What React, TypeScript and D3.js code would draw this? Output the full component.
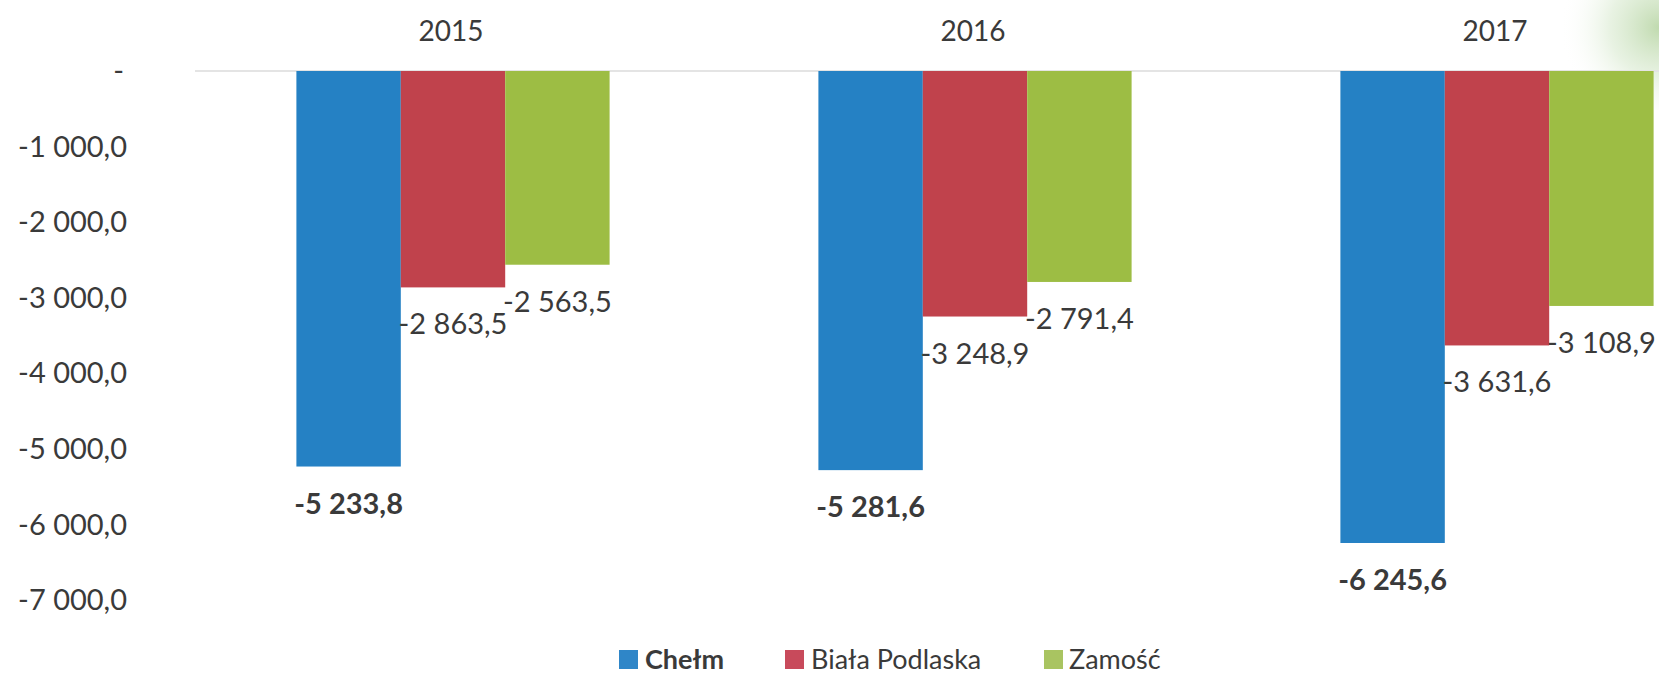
import React from "react";
import * as d3 from "d3";

const years = ["2015", "2016", "2017"];
const seriesNames = ["Chełm", "Biała Podlaska", "Zamość"];
const chelm = [-5233.8, -5281.6, -6245.6];
const bialaPodlaska = [-2863.5, -3248.9, -3631.6];
const zamosc = [-2563.5, -2791.4, -3108.9];
const yTicks = [0, -1000, -2000, -3000, -4000, -5000, -6000, -7000];

const colors = ["#2581c4", "#c0424c", "#9dbd44"];
const legendColors = ["#2f86c8", "#c84a5b", "#a9c461"];

const W = 1659;
const H = 680;

const locale = d3.formatLocale({
  decimal: ",",
  thousands: " ",
  grouping: [3],
  currency: ["", " zł"],
  minus: "-",
});
const fmt = locale.format(",.1f");
const tickFmt = (v: number) => (v === 0 ? "-" : fmt(v));

export default function App() {
  const series = [chelm, bialaPodlaska, zamosc];
  const x0 = d3.scaleBand<string>().domain(years).range([192, 1758]).paddingInner(0.4).paddingOuter(0.2);
  const x1 = d3.scaleBand<number>().domain([0, 1, 2]).range([0, x0.bandwidth()]).padding(0);
  const y = d3.scaleLinear().domain([-7000, 0]).range([600, 71]);
  const font = "Lato, 'Open Sans', sans-serif";
  const textColor = "#3a3a3a";

  const legendItems = [
    { sq: 619, tx: 645 },
    { sq: 785, tx: 811 },
    { sq: 1044, tx: 1069 },
  ];
  const legendY = 660;

  return (
    <svg
      width={W}
      height={H}
      viewBox={`0 0 ${W} ${H}`}
      style={{ position: "absolute", left: 0, top: 0, background: "#ffffff" }}
      fontFamily={font}
    >
      <defs>
        <radialGradient id="corner" cx="1.0" cy="0.25" r="0.9">
          <stop offset="0" stopColor="#b9d6a6" stopOpacity="0.9" />
          <stop offset="0.5" stopColor="#d9ead0" stopOpacity="0.6" />
          <stop offset="1" stopColor="#ffffff" stopOpacity="0" />
        </radialGradient>
      </defs>
      <rect x={W - 110} y={0} width={110} height={110} fill="url(#corner)" />

      {/* zero line */}
      <line x1={195} x2={W} y1={y(0)} y2={y(0)} stroke="#e4e4e4" strokeWidth={2} />

      {/* y axis tick labels */}
      {yTicks.map((t) => (
        <text
          key={t}
          x={t === 0 ? 124 : 127}
          y={y(t)}
          dy="0.35em"
          textAnchor="end"
          fontSize={29}
          fill={textColor}
        >
          {tickFmt(t)}
        </text>
      ))}

      {/* category labels */}
      {years.map((yr) => (
        <text
          key={yr}
          x={(x0(yr) as number) + x0.bandwidth() / 2 - 2}
          y={31}
          dy="0.35em"
          textAnchor="middle"
          fontSize={28}
          fill={textColor}
        >
          {yr}
        </text>
      ))}

      {/* bars */}
      {years.map((yr, i) => (
        <g key={yr} transform={`translate(${x0(yr)},0)`}>
          {series.map((s, j) => {
            const v = s[i];
            const bx = x1(j) as number;
            const bw = x1.bandwidth();
            return (
              <rect
                key={j}
                x={bx}
                y={y(0)}
                width={bw}
                height={y(v) - y(0)}
                fill={colors[j]}
              />
            );
          })}
          {series.map((s, j) => {
            const v = s[i];
            const bx = x1(j) as number;
            const bw = x1.bandwidth();
            return (
              <text
                key={"l" + j}
                x={bx + bw / 2}
                y={y(v) + 47}
                textAnchor="middle"
                fontSize={29}
                fontWeight={j === 0 ? 700 : 400}
                fill={textColor}
              >
                {fmt(v)}
              </text>
            );
          })}
        </g>
      ))}

      {/* legend */}
      {seriesNames.map((n, j) => (
        <g key={n}>
          <rect x={legendItems[j].sq} y={legendY - 10} width={19} height={19} fill={legendColors[j]} />
          <text
            x={legendItems[j].tx}
            y={legendY}
            dy="0.35em"
            fontSize={27}
            fontWeight={j === 0 ? 700 : 400}
            fill={textColor}
          >
            {n}
          </text>
        </g>
      ))}
    </svg>
  );
}
